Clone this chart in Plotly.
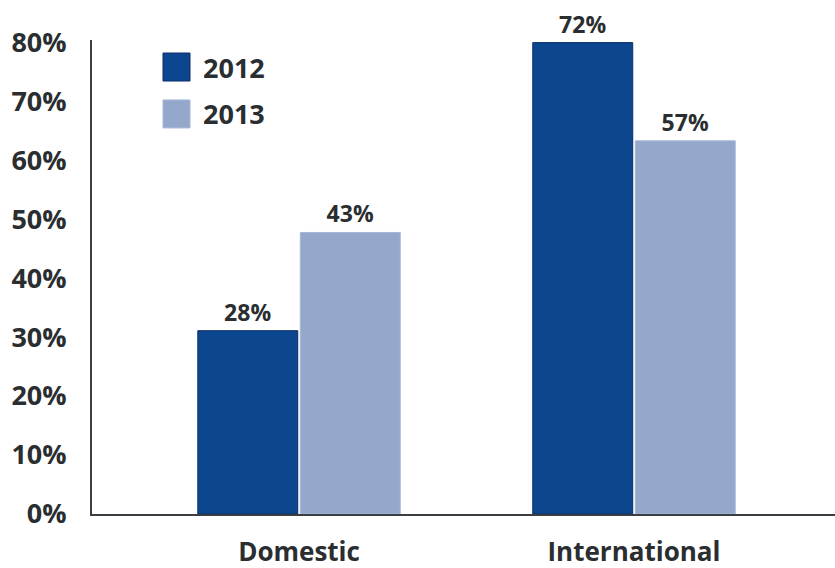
import plotly.graph_objects as go

# Data
categories = ["Domestic", "International"]
years = ["2012", "2013"]
values_2012 = [28, 72]
values_2013 = [43, 57]
tick_percents = [0, 10, 20, 30, 40, 50, 60, 70, 80]

# The printed axis runs about 11% above the bar values
AXIS_SCALE = 1.11

colors = {"2012": "#0B468F", "2013": "#93A8CB"}
outlines = {"2012": "#0A2D68", "2013": "#A7B8D5"}
text_color = "#2A2E30"
font_family = "Open Sans, Lato, DejaVu Sans, sans-serif"

series = {"2012": values_2012, "2013": values_2013}

fig = go.Figure()
for year in years:
    vals = series[year]
    fig.add_trace(go.Bar(
        x=categories,
        y=vals,
        name=year,
        marker=dict(color=colors[year], line=dict(color=outlines[year], width=1)),
        text=[f"{v}%" for v in vals],
        textposition="outside",
        textfont=dict(family=font_family, size=23, color=text_color, weight="bold"),
        cliponaxis=False,
        constraintext="none",
        showlegend=False,
    ))

# Legend drawn as large square swatches with labels
legend_y = [0.943, 0.844]
for year, ly in zip(years, legend_y):
    fig.add_shape(
        type="rect", xref="paper", yref="paper",
        x0=(163 - 92) / 743, x1=(190 - 92) / 743,
        y0=ly - 14 / 474, y1=ly + 14 / 474,
        fillcolor=colors[year], line=dict(color=outlines[year], width=1),
    )
    fig.add_annotation(
        xref="paper", yref="paper",
        x=(201 - 92) / 743, y=ly, xanchor="left", yanchor="middle",
        text=year, showarrow=False,
        font=dict(family=font_family, size=27, color=text_color, weight="bold"),
    )

fig.update_layout(
    width=835, height=568,
    margin=dict(l=92, r=0, t=40, b=54),
    paper_bgcolor="white",
    plot_bgcolor="white",
    barmode="group",
    bargap=0.388,
    bargroupgap=0.025,
    xaxis=dict(
        type="category",
        range=[-0.618, 1.6],
        showline=True, linecolor="#3A3F44", linewidth=2,
        showgrid=False, ticks="",
        tickfont=dict(family=font_family, size=26, color=text_color, weight="bold"),
        ticklabelstandoff=14,
    ),
    yaxis=dict(
        range=[0, 72.4],
        tickvals=[t / AXIS_SCALE for t in tick_percents],
        ticktext=[f"{t}%" for t in tick_percents],
        showline=True, linecolor="#3A3F44", linewidth=2,
        showgrid=False, zeroline=False, ticks="",
        tickfont=dict(family=font_family, size=27, color=text_color, weight="bold"),
        ticklabelstandoff=18,
    ),
)

fig.write_html("out.html")
